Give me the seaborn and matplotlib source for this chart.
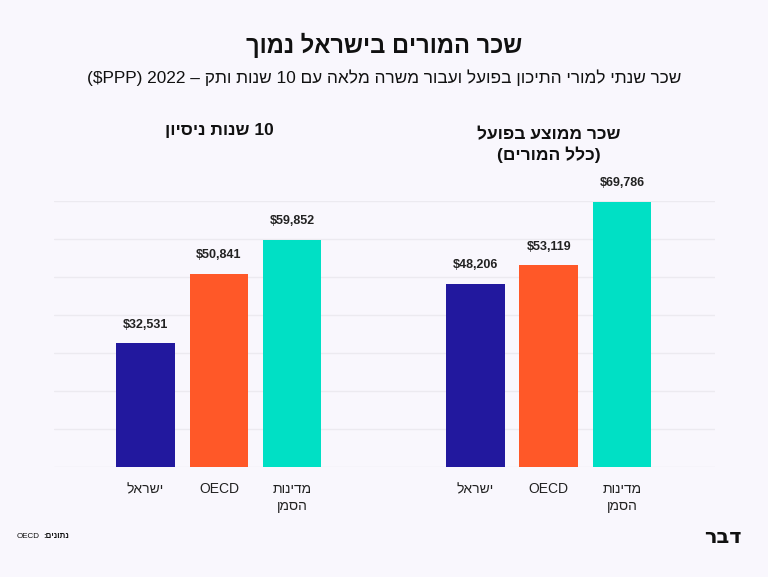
import re
import numpy as np
import pandas as pd
import matplotlib
matplotlib.use("Agg")
import matplotlib.pyplot as plt
import seaborn as sns

# ---- data ----
groups = ["10 שנות ניסיון", "שכר ממוצע בפועל\n(כלל המורים)"]
countries = ["ישראל", "OECD", "מדינות\nהסמן"]
values_experience = [32531, 50841, 59852]
values_average = [48206, 53119, 69786]
title = "שכר המורים בישראל נמוך"
subtitle = "שכר שנתי למורי התיכון בפועל ועבור משרה מלאה עם 10 שנות ותק – 2022 ($PPP)"
source_label = "נתונים:"
source_name = "OECD"
logo = "דבר"

colors = ["#22189E", "#FF5828", "#00E0C5"]
BG = "#F9F7FD"


def vis(s):
    """Minimal bidi: render RTL logical text in visual order for LTR drawing."""
    out = []
    for line in s.split("\n"):
        r = line[::-1]
        r = re.sub(r"[A-Za-z0-9$,.%]+", lambda m: m.group(0)[::-1], r)
        r = r.translate(str.maketrans("()", ")("))
        out.append(r)
    return "\n".join(out)


sns.set_theme(style="white")
plt.rcParams["font.family"] = ["Liberation Sans", "DejaVu Sans"]

rows = []
for gi, vals in enumerate([values_experience, values_average]):
    for ci, v in enumerate(vals):
        rows.append({"pos": gi * 4.5 + ci, "country": countries[ci], "value": v})
df = pd.DataFrame(rows)

fig = plt.figure(figsize=(7.68, 5.77), dpi=100, facecolor=BG)
ax = fig.add_axes([54 / 768, 1 - 467 / 577, (715 - 54) / 768, (467 - 201) / 577])
ax.set_facecolor(BG)

sns.barplot(data=df, x="pos", y="value", hue="country", palette=colors,
            native_scale=True, width=0.8, dodge=False, legend=False, ax=ax,
            linewidth=0, saturation=1)

ax.set_ylim(0, 70000)
ax.set_xlim(-1.25, 7.77)
ax.set_yticks(np.arange(0, 70001, 10000))
ax.yaxis.grid(True, color="#ECEAF0", linewidth=1)
ax.set_axisbelow(True)
for sp in ax.spines.values():
    sp.set_visible(False)
ax.set_yticklabels([])
ax.tick_params(left=False, bottom=False)
ax.set_xlabel("")
ax.set_ylabel("")

ax.set_xticks(df["pos"])
ax.set_xticklabels([vis(c) for c in df["country"]], fontsize=10, color="#222222",
                   linespacing=1.25, va="top")
ax.tick_params(axis="x", pad=5)

for p, v in zip(df["pos"], df["value"]):
    ax.annotate(f"${v:,}", (p, v), xytext=(0, 9), textcoords="offset points",
                ha="center", va="bottom", fontsize=9, fontweight="bold", color="#222222")

# group headings
heading_tops = [123, 127]
for gi, g in enumerate(groups):
    x = gi * 4.5 + 1
    xf = ax.transData.transform((x, 0))[0] / 768
    fig.text(xf, 1 - heading_tops[gi] / 577, vis(g), ha="center", va="top", fontsize=12.5,
             fontweight="bold", color="#111111", linespacing=1.3)

fig.text(0.5, 1 - 45 / 577, vis(title), ha="center", va="center", fontsize=17,
         fontweight="bold", color="#111111")
fig.text(0.5, 1 - 78 / 577, vis(subtitle), ha="center", va="center", fontsize=12.4,
         color="#111111")
t_src = fig.text(17 / 768, 1 - 537 / 577, source_name, ha="left", va="center", fontsize=5.8,
                 color="#111111")
fig.text(0, 0, "")
ax.annotate(vis(source_label), xy=(1, 0.5), xycoords=t_src, xytext=(2, 0),
            textcoords="offset points", ha="left", va="center", fontsize=5.8,
            fontweight="bold", color="#111111", annotation_clip=False)
fig.text(742 / 768, 1 - 537 / 577, vis(logo), ha="right", va="center", fontsize=15,
         fontweight="bold", color="#111111", family=["DejaVu Sans"])

fig.savefig("out.png", dpi=100, facecolor=BG)
